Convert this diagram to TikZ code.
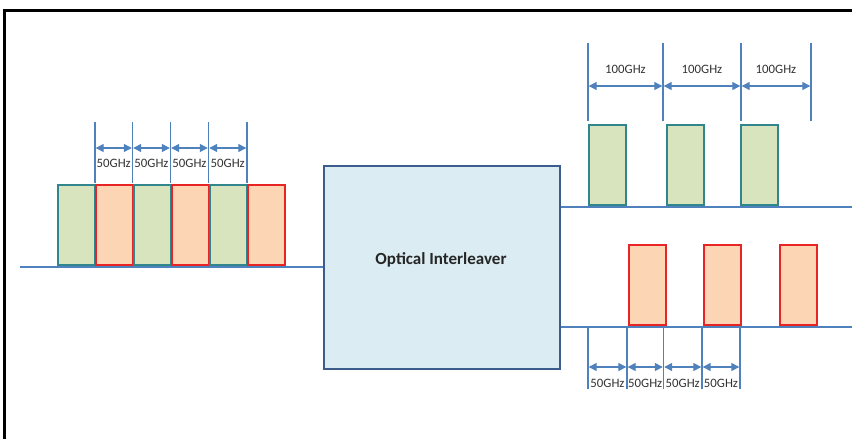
\documentclass[tikz,border=0pt]{standalone}
\usepackage{fontspec}
\setmainfont{Carlito}
\usetikzlibrary{arrows.meta,calc}
\definecolor{lineblue}{RGB}{79,129,189}
\definecolor{boxfill}{RGB}{219,236,243}
\definecolor{boxedge}{RGB}{60,92,140}
\definecolor{gfill}{RGB}{215,228,189}
\definecolor{gedge}{RGB}{49,133,140}
\definecolor{rfill}{RGB}{252,213,180}
\definecolor{redge}{RGB}{232,36,36}
\tikzset{
  gbar/.style={draw=gedge, fill=gfill, line width=1.7pt, minimum width=37pt, minimum height=80pt, inner sep=0pt, anchor=south west},
  rbar/.style={draw=redge, fill=rfill, line width=1.7pt, minimum width=37pt, minimum height=80pt, inner sep=0pt, anchor=south west},
  baseline/.style={draw=lineblue, line width=2pt},
  dimline/.style={draw=lineblue, line width=1.3pt},
  dimarrow/.style={draw=lineblue, line width=1.3pt, {Triangle[length=8pt,width=8pt]}-{Triangle[length=8pt,width=8pt]}, shorten <=0.7pt, shorten >=0.7pt},
  lbl/.style={font=\fontsize{12.8}{14}\selectfont, text=black!80, inner sep=0pt}
}
\begin{document}
\begin{tikzpicture}[x=1pt,y=-1pt]
\useasboundingbox (0,0) rectangle (852,439);
% frame
\draw[line width=2.5pt, line cap=rect] (4.5,439) -- (4.5,10.5) -- (853,10.5);

% main box
\node[draw=boxedge, fill=boxfill, line width=2.2pt, minimum width=236pt, minimum height=203pt, inner sep=0pt, anchor=north west] (box) at (323,165) {};
\node[font=\bfseries\fontsize{17}{18}\selectfont, text=black!85] (boxlabel) at (441,260) {Optical Interleaver};

% input line
\coordinate (inL) at (20,267);
\draw[baseline] (inL) -- (box.west |- inL);

% input bars
\node[gbar] (b1) at (57,266) {};
\node[rbar] (b2) at (95,266) {};
\node[gbar] (b3) at (133,266) {};
\node[rbar] (b4) at (171,266) {};
\node[gbar] (b5) at (209,266) {};
\node[rbar] (b6) at (247,266) {};

% input dimension lines
\foreach \i/\x in {1/95,2/132.5,3/170.5,4/208.5,5/247}{
  \coordinate (ut\i) at (\x,122);
  \coordinate (ub\i) at (\x,183);
  \coordinate (ua\i) at (\x,148);
  \draw[dimline] (ut\i) -- (ub\i);
}
\foreach \a/\b in {1/2,2/3,3/4,4/5}{
  \draw[dimarrow] (ua\a) -- (ua\b);
  \node[lbl] (ul\a) at ($(ua\a)!0.5!(ua\b)+(0,15)$) {50GHz};
}

% output lines
\coordinate (o1) at (852,207);
\coordinate (o2) at (852,327);
\draw[baseline] (box.east |- o1) -- (o1);
\draw[baseline] (box.east |- o2) -- (o2);

% top output bars
\node[gbar] (t1) at (588,206) {};
\node[gbar] (t2) at (666,206) {};
\node[gbar] (t3) at (740,206) {};

% top dims
\foreach \i/\x in {1/588,2/663,3/741,4/811}{
  \coordinate (tt\i) at (\x,43);
  \coordinate (tb\i) at (\x,121);
  \coordinate (ta\i) at (\x,86);
  \draw[dimline] (tt\i) -- (tb\i);
}
\foreach \a/\b in {1/2,2/3,3/4}{
  \draw[dimarrow] (ta\a) -- (ta\b);
  \node[lbl] (tl\a) at ($(ta\a)!0.5!(ta\b)+(0,-17)$) {100GHz};
}

% bottom output bars
\node[rbar] (r1) at (628,326) {};
\node[rbar] (r2) at (703,326) {};
\node[rbar] (r3) at (779,326) {};

% bottom dims
\foreach \i/\x in {1/588,2/627,3/663.5,4/702,5/740}{
  \coordinate (bt\i) at (\x,328);
  \coordinate (bb\i) at (\x,389);
  \coordinate (ba\i) at (\x,367);
  \draw[dimline] (bt\i) -- (bb\i);
}
\foreach \a/\b in {1/2,2/3,3/4,4/5}{
  \draw[dimarrow] (ba\a) -- (ba\b);
  \node[lbl] (bl\a) at ($(ba\a)!0.5!(ba\b)+(0,16)$) {50GHz};
}
\end{tikzpicture}
\end{document}
